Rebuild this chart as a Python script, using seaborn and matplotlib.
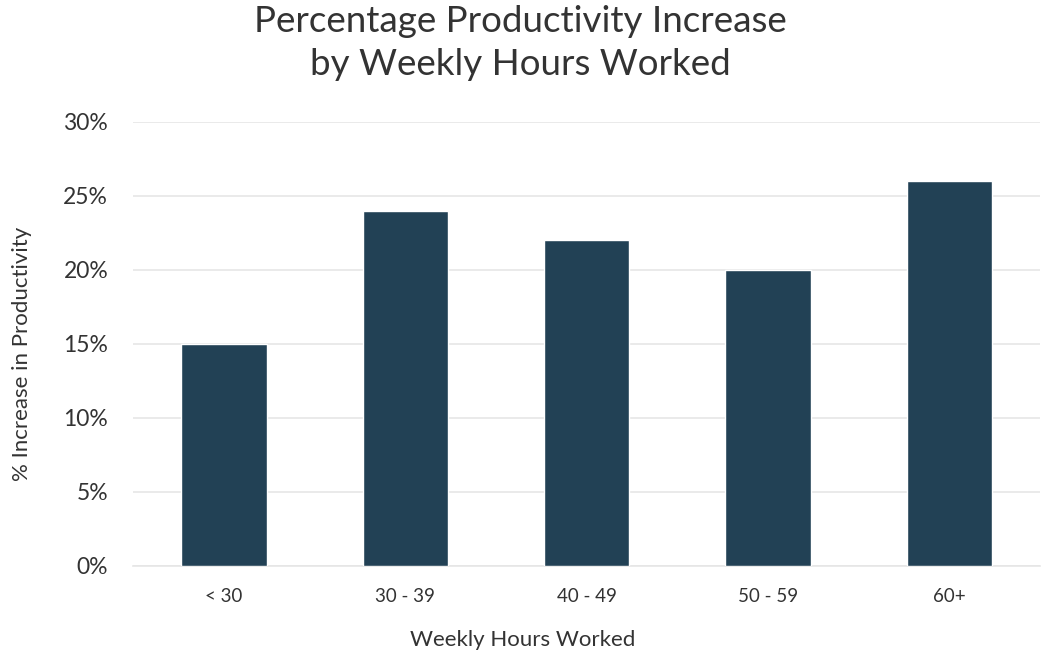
import matplotlib
matplotlib.use("Agg")
import matplotlib.pyplot as plt
from matplotlib.ticker import PercentFormatter
import seaborn as sns
import pandas as pd

categories = ["< 30", "30 - 39", "40 - 49", "50 - 59", "60+"]
increase_pct = [15, 24, 22, 20, 26]
y_ticks = [0, 5, 10, 15, 20, 25, 30]

df = pd.DataFrame({"hours": categories, "increase": increase_pct})

sns.set_theme(style="white")
plt.rcParams["font.family"] = ["Lato", "DejaVu Sans"]

text_color = "#333333"
bar_color = "#224155"
weight = "normal"

fig = plt.figure(figsize=(10.41, 6.55), dpi=100)
ax = fig.add_axes([0.128, 0.136, 0.871, 0.678])

sns.barplot(data=df, x="hours", y="increase", color=bar_color,
            saturation=1, width=0.47, ax=ax, zorder=3)

ax.set_ylim(0, 30)
ax.set_xlim(-0.5, 4.5)
ax.set_yticks(y_ticks)
ax.yaxis.set_major_formatter(PercentFormatter(decimals=0))
ax.grid(axis="y", color="#e6e6e6", linewidth=1.2, zorder=0)
ax.grid(axis="x", visible=False)
for side in ["top", "right", "left"]:
    ax.spines[side].set_visible(False)
ax.spines["bottom"].set_color("#e6e6e6")
ax.spines["bottom"].set_linewidth(1.2)

ax.tick_params(axis="y", length=0, pad=18, labelsize=16.5, labelcolor=text_color)
ax.tick_params(axis="x", length=0, pad=16, labelsize=13.5, labelcolor=text_color)
for lbl in ax.get_yticklabels() + ax.get_xticklabels():
    lbl.set_fontweight(weight)

ax.set_xlabel("")
ax.set_ylabel("")
fig.text(0.502, 0.023, "Weekly Hours Worked", ha="center", va="center",
         fontsize=16, color=text_color, fontweight=weight)
fig.text(0.012, 0.46, "% Increase in Productivity", ha="left", va="center",
         rotation=90, fontsize=16, color=text_color, fontweight=weight)

fig.suptitle("Percentage Productivity Increase\nby Weekly Hours Worked",
             x=0.5, y=0.993, fontsize=26.5, color=text_color,
             fontweight=weight, linespacing=1.38)

fig.savefig("out.png", dpi=100, facecolor="white")
